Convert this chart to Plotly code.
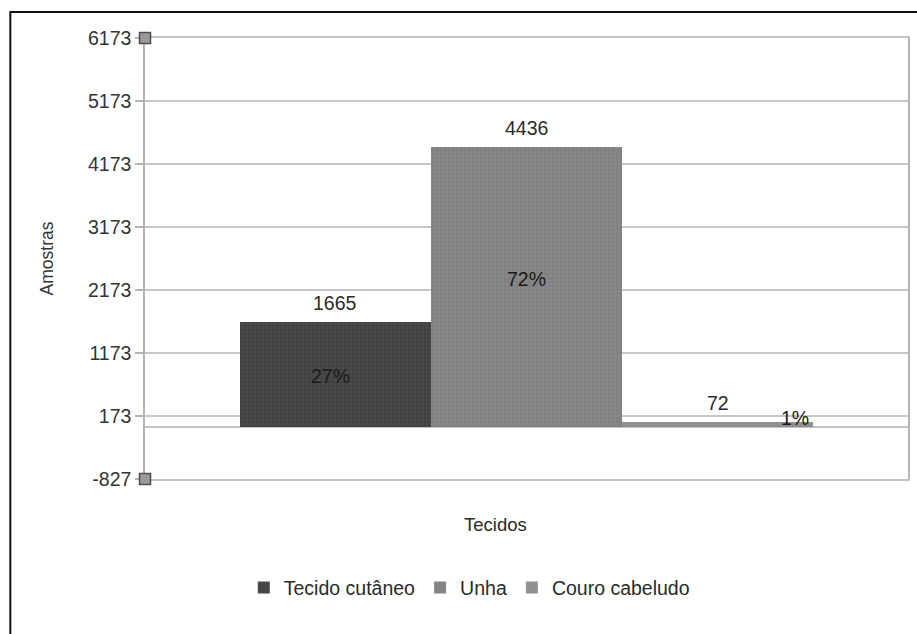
import plotly.graph_objects as go

categories = ["Tecido cutâneo", "Unha", "Couro cabeludo"]
values = [1665, 4436, 72]
colors = ["#434343", "#828282", "#8e8e8e"]
dot_colors = ["#5a5a5a", "#979797", "#a2a2a2"]
y_ticks = [-827, 173, 1173, 2173, 3173, 4173, 5173, 6173]

total = sum(values)
percents = [f"{round(v / total * 100):.0f}%" for v in values]

FONT = "Liberation Sans, Arial, sans-serif"

fig = go.Figure()
for cat, val, col, dc in zip(categories, values, colors, dot_colors):
    fig.add_trace(go.Bar(
        x=[cat], y=[val], name=cat,
        marker=dict(color=col, line=dict(width=0),
                    pattern=dict(shape=".", size=4, solidity=0.12,
                                 fgcolor=dc, bgcolor=col, fillmode="replace")),
    ))

annotations = []
# value labels above bars
for cat, val in zip(categories, values):
    annotations.append(dict(x=cat, y=val, xref="x", yref="y", text=str(val),
                            showarrow=False, yanchor="middle", yshift=19,
                            font=dict(family=FONT, size=19.5, color="#2a2a2a")))
# percentage labels
pct_shift = [(-5, -2), (0, 8), (77, 7)]
for cat, val, pct, (dx, dy) in zip(categories, values, percents, pct_shift):
    annotations.append(dict(x=cat, y=val / 2, xref="x", yref="y", text=pct,
                            showarrow=False, yanchor="middle", xshift=dx, yshift=dy,
                            font=dict(family=FONT, size=19.5, color="#1a1a1a")))
# x axis title
annotations.append(dict(x=0.46, y=-0.104, xref="paper", yref="paper", text="Tecidos",
                        showarrow=False, xanchor="center", yanchor="middle",
                        font=dict(family=FONT, size=18.5, color="#2a2a2a")))

shapes = [
    # outer frame
    dict(type="rect", xref="paper", yref="paper", x0=-0.1765, x1=1.03, y0=-0.42, y1=1.059,
         line=dict(color="#111111", width=2), fillcolor="rgba(0,0,0,0)", layer="above"),
]
for yp in (0, 1):
    shapes.append(dict(type="rect", xref="paper", yref="paper",
                       xsizemode="pixel", xanchor=0, x0=-5.5, x1=5.5,
                       ysizemode="pixel", yanchor=yp, y0=-5.5, y1=5.5,
                       line=dict(color="#4d4d4d", width=1.5), fillcolor="#9a9a9a",
                       layer="above"))

fig.update_layout(
    width=917, height=634,
    margin=dict(l=145, r=7, t=38, b=155),
    paper_bgcolor="white", plot_bgcolor="white",
    barmode="overlay", bargap=0,
    font=dict(family=FONT, size=19.5, color="#333333"),
    showlegend=True,
    legend=dict(orientation="h", x=0.425, xanchor="center", y=-0.247, yanchor="middle",
                font=dict(family=FONT, size=19.5, color="#2a2a2a"),
                itemwidth=30, traceorder="normal", bgcolor="rgba(0,0,0,0)"),
    xaxis=dict(type="category", range=[-0.995, 2.995], showticklabels=False,
               showgrid=False, zeroline=False, ticks="",
               showline=True, linecolor="#c4c4c4", linewidth=1.5, mirror=True),
    yaxis=dict(range=[y_ticks[0], y_ticks[-1]], tickvals=y_ticks,
               ticktext=[str(t) for t in y_ticks],
               showgrid=True, gridcolor="#c8c8c8", gridwidth=1.5,
               zeroline=True, zerolinecolor="#c4c4c4", zerolinewidth=1.5,
               showline=True, linecolor="#b4b4b4", linewidth=1.5, mirror=True,
               ticks="outside", ticklen=8, tickcolor="#b4b4b4", tickwidth=1.5,
               tickfont=dict(family=FONT, size=19.5, color="#333333"),
               title=dict(text="Amostras", standoff=30,
                          font=dict(family=FONT, size=17.5, color="#333333"))),
    annotations=annotations,
    shapes=shapes,
)

fig.write_html("out.html", config={"displayModeBar": False},
               post_script="document.body.style.margin='0';")
